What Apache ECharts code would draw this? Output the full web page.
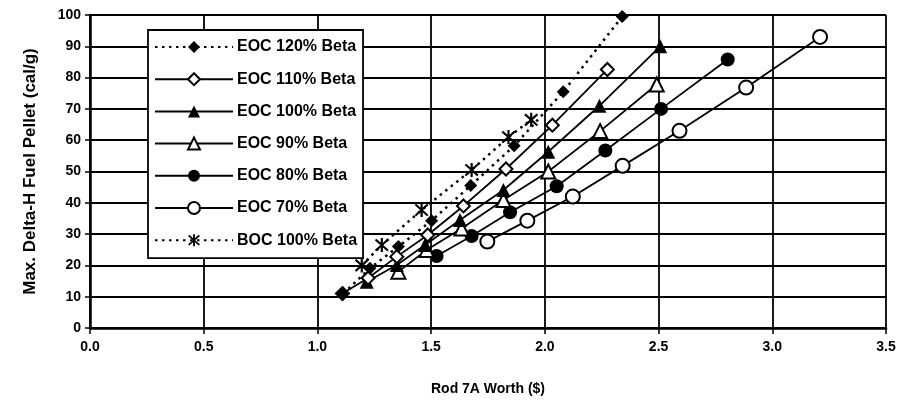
<!DOCTYPE html>
<html>
<head>
<meta charset="utf-8">
<script src="https://cdn.jsdelivr.net/npm/echarts@6/dist/echarts.min.js"></script>
<style>
html,body{margin:0;padding:0;background:#fff;}
#c{width:903px;height:404px;}
</style>
</head>
<body>
<div id="c"></div>
<script>
// ---- data (x = Rod 7A worth $, y = max delta-H cal/g) ----
const seriesNames = ['EOC 120% Beta','EOC 110% Beta','EOC 100% Beta','EOC 90% Beta','EOC 80% Beta','EOC 70% Beta','BOC 100% Beta'];
const eoc120 = [[1.114,11],[1.231,19.1],[1.356,26],[1.502,34.3],[1.674,45.5],[1.865,58.2],[2.081,75.5],[2.34,99.5]];
const eoc110 = [[1.11,11],[1.223,16],[1.349,22.8],[1.485,29.7],[1.642,39],[1.829,50.8],[2.033,64.8],[2.275,82.6]];
const eoc100 = [[1.217,14.8],[1.349,20.1],[1.473,26.5],[1.627,34.5],[1.818,44.1],[2.015,56.3],[2.24,71],[2.507,90]];
const eoc90  = [[1.356,18],[1.48,24.9],[1.634,31.8],[1.818,40.9],[2.015,50],[2.243,62.9],[2.492,77.8]];
const eoc80  = [[1.524,23],[1.678,29.4],[1.847,37],[2.052,45.3],[2.266,56.7],[2.511,70],[2.804,85.8]];
const eoc70  = [[1.747,27.6],[1.923,34.3],[2.123,42],[2.342,51.8],[2.592,63],[2.885,76.8],[3.21,93]];
const boc100 = [[1.195,20],[1.283,26.5],[1.458,37.7],[1.678,50.5],[1.84,61],[1.94,66.5]];
const xTicks = [0.0,0.5,1.0,1.5,2.0,2.5,3.0,3.5];
const yTicks = [0,10,20,30,40,50,60,70,80,90,100];

const asterisk = 'path://M-0.7,-5L0.7,-5L0.7,5L-0.7,5Z' +
  'M-3.5,-4.5L4.5,3.5L3.5,4.5L-4.5,-3.5Z' +
  'M-4.5,3.5L3.5,-4.5L4.5,-3.5L-3.5,4.5Z';

const dataSets = [eoc120,eoc110,eoc100,eoc90,eoc80,eoc70,boc100];
const symbols = ['diamond','diamond','triangle','triangle','circle','circle',asterisk];
const sizes = [13,13,14,14,14,14,14];
const filled = [true,false,true,false,true,false,true];
const dotted = [true,false,false,false,false,false,true];

const series = dataSets.map((d,i)=>({
  name: seriesNames[i],
  type: 'line',
  data: d,
  symbol: symbols[i],
  symbolSize: sizes[i],
  showAllSymbol: true,
  animation: false,
  z: 10-i,
  lineStyle: {color:'#000', width: dotted[i]?2.5:1.8, type: dotted[i]?[2.5,4.5]:'solid'},
  itemStyle: filled[i] ? {color:'#000', borderColor:'#000', borderWidth:0}
                       : {color:'#fff', borderColor:'#000', borderWidth:2}
}));

const chart = echarts.init(document.getElementById('c'), null, {renderer:'canvas'});
const labelFont = {fontFamily:'"Liberation Sans", Arial, sans-serif', fontWeight:'bold', fontSize:14, color:'#000'};
chart.setOption({
  backgroundColor:'#fff',
  animation:false,
  grid:{left:90, right:17, top:15, bottom:76, show:false},
  xAxis:{
    type:'value', min:0, max:3.5, interval:0.5,
    name:'Rod 7A Worth ($)', nameLocation:'middle', nameGap:54,
    nameTextStyle:Object.assign({}, labelFont, {fontSize:14}),
    axisLine:{show:true, onZero:false, lineStyle:{color:'#000', width:2.5}},
    axisTick:{show:true, length:6, lineStyle:{color:'#000', width:1.5}},
    axisLabel:Object.assign({margin:12, formatter:v=>v.toFixed(1)}, labelFont),
    splitLine:{show:true, lineStyle:{color:'#000', width:1.8}}
  },
  yAxis:{
    type:'value', min:0, max:100, interval:10,
    name:'Max. Delta-H Fuel Pellet (cal/g)', nameLocation:'middle', nameGap:51,
    nameTextStyle:Object.assign({}, labelFont, {fontSize:17}),
    axisLine:{show:true, lineStyle:{color:'#000', width:2.5}},
    axisTick:{show:true, length:5, lineStyle:{color:'#000', width:1.5}},
    axisLabel:Object.assign({margin:9}, labelFont),
    splitLine:{show:true, lineStyle:{color:'#000', width:1.8}}
  },
  legend:{
    show:true, orient:'vertical', left:148, top:30,
    data: seriesNames,
    itemWidth:78, itemHeight:15, itemGap:16.2,
    backgroundColor:'#fff', borderColor:'#000', borderWidth:1.8,
    padding:[9,6,10,6],
    textStyle:{fontFamily:'"Liberation Sans", Arial, sans-serif', fontWeight:'bold', fontSize:16, color:'#000', padding:[0,0,0,-1]},
    inactiveColor:'#000'
  },
  series: series
});
</script>
</body>
</html>
